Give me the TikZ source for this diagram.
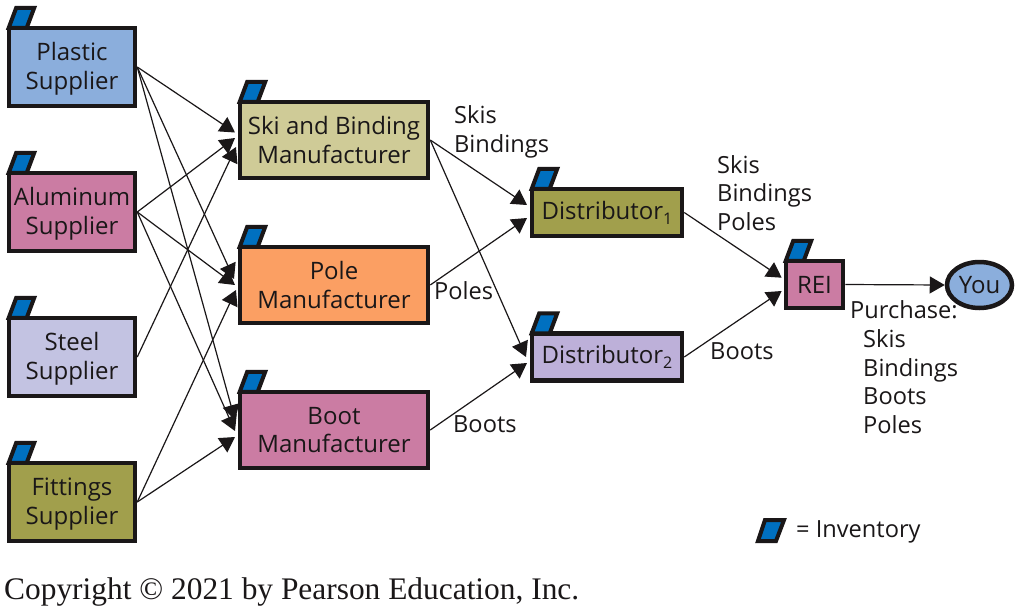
\documentclass[tikz,border=0pt]{standalone}
\usepackage{fontspec}
\setmainfont{Open Sans}
\newfontfamily\cpy{Liberation Serif}
\usetikzlibrary{arrows.meta,shapes.geometric}
\definecolor{cBlue}{HTML}{8BAEDC}
\definecolor{cRose}{HTML}{CB7CA3}
\definecolor{cLav}{HTML}{C3C3E2}
\definecolor{cOlive}{HTML}{A19F4C}
\definecolor{cKhaki}{HTML}{CFCB97}
\definecolor{cOrange}{HTML}{FB9F63}
\definecolor{cPurple}{HTML}{BDB0D9}
\definecolor{cTab}{HTML}{0070C0}
\definecolor{cInk}{HTML}{1A1718}
\tikzset{
  x=1pt,y=-1pt,
  boxn/.style={draw=cInk,line width=4.5pt,rectangle,inner sep=0pt,align=center,font=\fontsize{24}{28.7}\selectfont,text=cInk},
  lbl/.style={inner sep=0pt,anchor=west,align=left,font=\fontsize{23.6}{28.5}\selectfont,text=cInk},
  conn/.style={draw=cInk,line width=1.2pt,-{Triangle[length=15pt,width=17pt]}},
  tabn/.style={draw=cInk,line width=4pt,fill=cTab,line join=miter}
}
\newcommand{\tabat}[1]{\draw[tabn] ([shift={(2,2)}]#1.north west) -- ++(7.5,-20) -- ++(18,0) -- ++(-7.5,20) -- cycle;}
\newcommand{\suptext}[2]{\raisebox{-2.6pt}[\height][\depth]{\begin{tabular}{@{}c@{}}#1\\#2\end{tabular}}}
\newcommand{\subdig}[1]{\raisebox{-5pt}{\fontsize{16}{16}\selectfont #1}}
\begin{document}
\begin{tikzpicture}
\useasboundingbox (0,0) rectangle (1020,611);
\fill[white] (0,0) rectangle (1020,611);
\node[boxn,fill=cBlue,minimum width=126pt,minimum height=78pt] (plastic) at (72,67) {\suptext{Plastic}{Supplier}};
\node[boxn,fill=cRose,minimum width=126pt,minimum height=78pt] (alum) at (72,212) {\suptext{Aluminum}{Supplier}};
\node[boxn,fill=cLav,minimum width=126pt,minimum height=78pt] (steel) at (72,357) {\suptext{Steel}{Supplier}};
\node[boxn,fill=cOlive,minimum width=126pt,minimum height=78pt] (fit) at (72,502) {\suptext{Fittings}{Supplier}};
\node[boxn,fill=cKhaki,minimum width=188pt,minimum height=76pt] (ski) at (334,140) {Ski and Binding\\Manufacturer};
\node[boxn,fill=cOrange,minimum width=188pt,minimum height=76pt] (pole) at (334,285) {Pole\\Manufacturer};
\node[boxn,fill=cRose,minimum width=188pt,minimum height=76pt] (boot) at (334,430) {Boot\\Manufacturer};
\node[boxn,fill=cOlive,minimum width=150pt,minimum height=47pt] (d1) at (607,212.5) {Distributor\subdig{1}};
\node[boxn,fill=cPurple,minimum width=150pt,minimum height=47pt] (d2) at (607,357) {Distributor\subdig{2}};
\node[boxn,fill=cRose,minimum width=57pt,minimum height=47pt] (rei) at (814.5,284.5) {REI};
\node[boxn,fill=cBlue,ellipse,minimum width=65pt,minimum height=46pt] (you) at (979.5,285) {You};
\foreach \n in {plastic,alum,steel,fit,ski,pole,boot,d1,d2,rei} {\tabat{\n}}
\coordinate (s1) at (235,132.5);
\coordinate (s2) at (235,138);
\coordinate (s3) at (236,147);
\coordinate (p1) at (234,279);
\coordinate (p2) at (235,285);
\coordinate (p3) at (236,290);
\coordinate (b1) at (235,420);
\coordinate (b2) at (235,431);
\coordinate (b3) at (235,437);
\foreach \a/\b in {plastic/s1,plastic/p1,plastic/b1,alum/s2,alum/p2,alum/b2,steel/s3,fit/p3,fit/b3}
  \draw[conn] (\a.east) -- (\b);
\coordinate (d1a) at (527,205);
\coordinate (d1b) at (527,218);
\coordinate (d2a) at (526,357);
\coordinate (d2b) at (527,363);
\coordinate (ra) at (781.7,277.7);
\coordinate (rb) at (781.7,291);
\draw[conn] (ski.east) -- (d1a);
\draw[conn] (ski.east) -- (d2a);
\draw[conn] (pole.east) -- (d1b);
\draw[conn] (boot.east) -- (d2b);
\draw[conn] (d1.east) -- (ra);
\draw[conn] (d2.east) -- (rb);
\draw[conn] (rei.east) -- (you.west);
\node[lbl] (t1) at (454,132) {Skis\\Bindings};
\node[lbl] (t2) at (434,291) {Poles};
\node[lbl] (t3) at (453,424) {Boots};
\node[lbl] (t4) at (717,193) {Skis\\Bindings\\Poles};
\node[lbl] (t5) at (710,351) {Boots};
\node[lbl] (t6) at (850,310) {Purchase:};
\node[lbl] (t7) at (863,381.5) {Skis\\Bindings\\Boots\\Poles};
\node[lbl] (t8) at (796,532) {= Inventory};
\draw[tabn] (758,541) -- (765,520) -- (784,520) -- (776,541) -- cycle;
\node[inner sep=0pt,anchor=west,font=\fontsize{31.4}{34}\selectfont\cpy,text=cInk] (copy) at (4,592) {Copyright © 2021 by Pearson Education, Inc.};
\end{tikzpicture}
\end{document}
